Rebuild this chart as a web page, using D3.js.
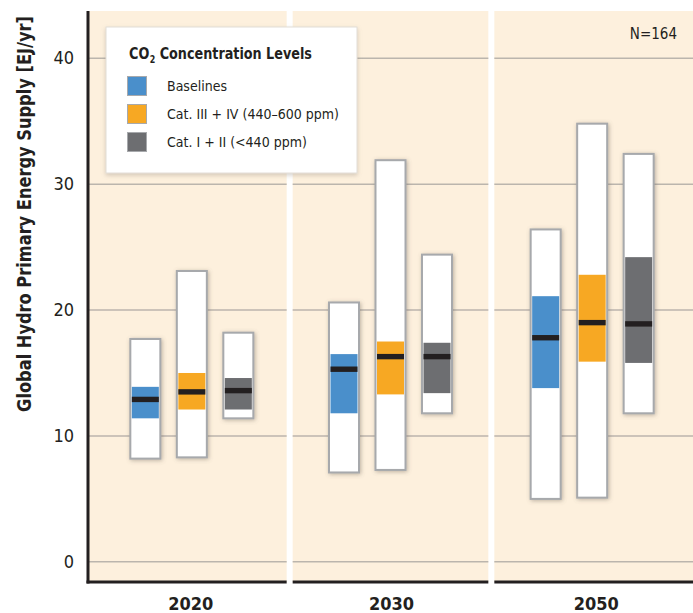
<!DOCTYPE html>
<html><head><meta charset="utf-8">
<script src="https://cdn.jsdelivr.net/npm/d3@7"></script>
<style>
html,body{margin:0;padding:0;background:#fff;}
svg{display:block;}
text{font-family:"Liberation Sans Narrow","DejaVu Sans Condensed","DejaVu Sans",sans-serif;font-stretch:condensed;}
</style></head>
<body>
<svg id="chart" width="693" height="613"></svg>
<script>
const years = ["2020", "2030", "2050"];
const seriesNames = ["Baselines", "Cat. III + IV (440\u2013600 ppm)", "Cat. I + II (<440 ppm)"];
const seriesColors = ["#4a8fcb", "#f7a823", "#6d6e71"];
// per year, per series
const minValues    = [[8.2, 8.3, 11.4], [7.1, 7.3, 11.8], [5.0, 5.1, 11.8]];
const q1Values     = [[11.4, 12.1, 12.1], [11.8, 13.3, 13.4], [13.8, 15.9, 15.8]];
const medianValues = [[12.9, 13.5, 13.6], [15.3, 16.3, 16.3], [17.8, 19.0, 18.9]];
const q3Values     = [[13.9, 15.0, 14.6], [16.5, 17.5, 17.4], [21.1, 22.8, 24.2]];
const maxValues    = [[17.7, 23.1, 18.2], [20.6, 31.9, 24.4], [26.4, 34.8, 32.4]];
const yTicks = [0, 10, 20, 30, 40];
const yTitle = "Global Hydro Primary Energy Supply [EJ/yr]";
const nLabel = "N=164";

const svg = d3.select("#chart");
const axisX = 88, plotTop = 11, plotBottom = 582, plotRight = 693, gap = 6;

const y = d3.scaleLinear().domain([-1.6, 43.75]).range([plotBottom, plotTop]);
const xYear = d3.scaleBand().domain(years).range([axisX, plotRight]);
const xSeries = d3.scalePoint().domain(seriesNames).range([-46.5, 46.5]);
const barW = 30;

const defs = svg.append("defs");
const f = defs.append("filter").attr("id", "shadow").attr("x", "-50%").attr("y", "-20%").attr("width", "200%").attr("height", "140%");
f.append("feDropShadow").attr("dx", 1).attr("dy", 1).attr("stdDeviation", 2).attr("flood-color", "#6b6157").attr("flood-opacity", 0.45);
const f2 = defs.append("filter").attr("id", "lshadow").attr("x", "-10%").attr("y", "-10%").attr("width", "120%").attr("height", "130%");
f2.append("feDropShadow").attr("dx", 0).attr("dy", 2).attr("stdDeviation", 2).attr("flood-color", "#8a8076").attr("flood-opacity", 0.35);

// panels
years.forEach((yr, i) => {
  const x0 = i === 0 ? axisX : xYear(yr) + gap / 2;
  const x1 = i === years.length - 1 ? plotRight : xYear(yr) + xYear.bandwidth() - gap / 2;
  const g = svg.append("g");
  g.append("rect").attr("x", x0).attr("y", plotTop).attr("width", x1 - x0).attr("height", plotBottom - plotTop).attr("fill", "#fdf0dd");
  g.selectAll("line.grid").data(yTicks).join("line").attr("class", "grid")
    .attr("x1", x0).attr("x2", x1).attr("y1", d => y(d)).attr("y2", d => y(d))
    .attr("stroke", "#bbb5ad").attr("stroke-width", 1.5);
  g.append("line").attr("x1", x0 - (i === 0 ? 1.5 : 0)).attr("x2", x1).attr("y1", plotBottom).attr("y2", plotBottom)
    .attr("stroke", "#231f20").attr("stroke-width", 3);
  g.append("text").attr("x", xYear(yr) + xYear.bandwidth() / 2 + (i === 0 ? 2 : i === 2 ? 4 : 1)).attr("y", 610)
    .attr("text-anchor", "middle").attr("font-size", 18).attr("font-weight", "bold").attr("fill", "#231f20").text(yr);
});

// left axis line
svg.append("line").attr("x1", axisX).attr("x2", axisX).attr("y1", plotTop).attr("y2", plotBottom + 1.5)
  .attr("stroke", "#231f20").attr("stroke-width", 3);

// y axis labels
const yAxis = d3.axisLeft(y).tickValues(yTicks).tickSize(0).tickPadding(14);
const ax = svg.append("g").attr("transform", `translate(${axisX},0)`).call(yAxis);
ax.select(".domain").remove();
ax.selectAll("text").attr("font-size", 18).attr("fill", "#231f20")
  .style("font-family", '"Liberation Sans Narrow","DejaVu Sans Condensed","DejaVu Sans",sans-serif');

// y title, horizontally compressed to the reference length
const yt = svg.append("text").attr("text-anchor", "middle")
  .attr("font-size", 20).attr("font-weight", "bold").attr("fill", "#231f20").text(yTitle);
const ytLen = yt.node().getComputedTextLength();
yt.attr("transform", `translate(31,214) rotate(-90) scale(${Math.min(1, 396 / ytLen)},1)`);

// bars
years.forEach((yr, i) => {
  const cx = xYear(yr) + xYear.bandwidth() / 2 + (i === 0 ? 3 : 0);
  seriesNames.forEach((s, j) => {
    const bx = cx + xSeries(s) - barW / 2;
    const g = svg.append("g");
    g.append("rect").attr("x", bx).attr("y", y(maxValues[i][j])).attr("width", barW)
      .attr("height", y(minValues[i][j]) - y(maxValues[i][j]))
      .attr("fill", "#fff").attr("stroke", "#a7a9ac").attr("stroke-width", 2).attr("filter", "url(#shadow)");
    g.append("rect").attr("x", bx + 1.5).attr("y", y(q3Values[i][j])).attr("width", barW - 3)
      .attr("height", y(q1Values[i][j]) - y(q3Values[i][j])).attr("fill", seriesColors[j]);
    g.append("rect").attr("x", bx + 1.5).attr("y", y(medianValues[i][j]) - 2.7).attr("width", barW - 3)
      .attr("height", 5.4).attr("fill", "#231f20");
  });
});

// N label
svg.append("text").attr("x", 677).attr("y", 39).attr("text-anchor", "end").attr("font-size", 15).attr("fill", "#231f20").text(nLabel);

// legend
const lg = svg.append("g");
lg.append("rect").attr("x", 106).attr("y", 27).attr("width", 251).attr("height", 146).attr("fill", "#fff")
  .attr("stroke", "#e2ddd6").attr("stroke-width", 1).attr("filter", "url(#lshadow)");
const ltg = lg.append("g");
const lt1 = ltg.append("text").attr("x", 0).attr("y", 0).attr("font-size", 16).attr("font-weight", "bold").attr("fill", "#231f20").text("CO");
const w1 = lt1.node().getComputedTextLength();
const lt2 = ltg.append("text").attr("x", w1 + 0.5).attr("y", 4).attr("font-size", 10).attr("font-weight", "bold").attr("fill", "#231f20").text("2");
const w2 = lt2.node().getComputedTextLength();
const lt3 = ltg.append("text").attr("x", w1 + w2 + 5.5).attr("y", 0).attr("font-size", 16).attr("font-weight", "bold").attr("fill", "#231f20").text("Concentration Levels");
const wTot = w1 + w2 + 5.5 + lt3.node().getComputedTextLength();
ltg.attr("transform", `translate(129,59) scale(${Math.min(1, 183 / wTot)},1)`);
seriesNames.forEach((s, j) => {
  lg.append("rect").attr("x", 127.5).attr("y", 76.5 + j * 28).attr("width", 19).attr("height", 19)
    .attr("fill", seriesColors[j]).attr("stroke", "#a7a9ac").attr("stroke-width", 1);
  lg.append("text").attr("x", 167).attr("y", 91 + j * 28).attr("font-size", 14).attr("fill", "#231f20").text(s);
});
</script>
</body></html>
